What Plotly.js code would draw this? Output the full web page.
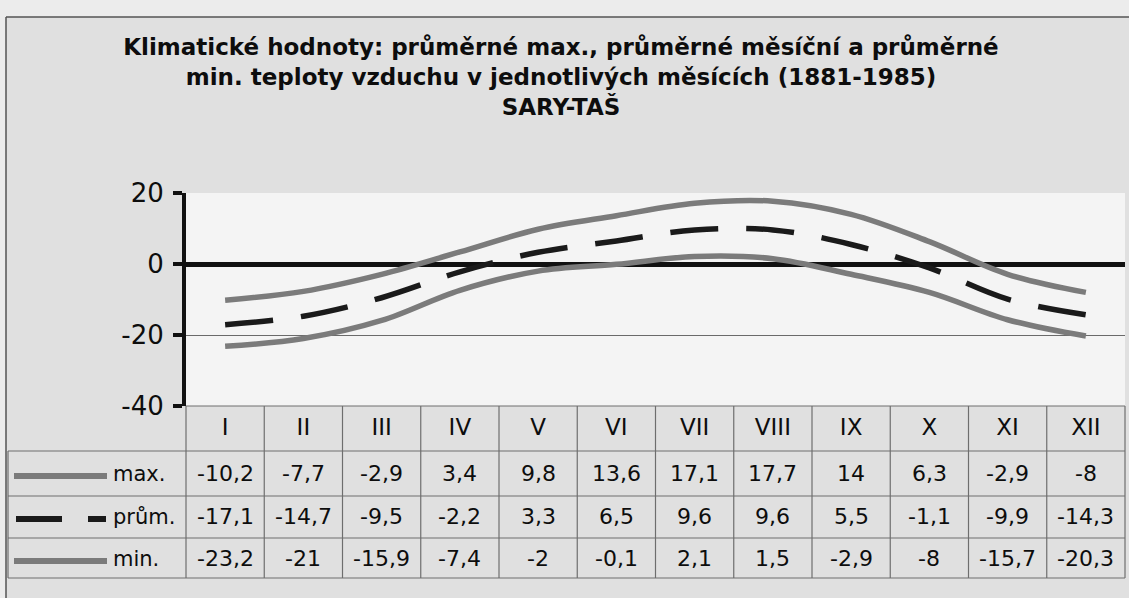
<!DOCTYPE html>
<html>
<head>
<meta charset="utf-8">
<script src="https://cdn.plot.ly/plotly-3.0.1.min.js"></script>
<style>html,body{margin:0;padding:0;background:#e4e4e4;}#chart{width:1129px;height:598px;}</style>
</head>
<body>
<div id="chart"></div>
<script>
// ---- data ----
const months = ['I','II','III','IV','V','VI','VII','VIII','IX','X','XI','XII'];
const maxT  = [-10.2, -7.7, -2.9, 3.4, 9.8, 13.6, 17.1, 17.7, 14, 6.3, -2.9, -8];
const meanT = [-17.1, -14.7, -9.5, -2.2, 3.3, 6.5, 9.6, 9.6, 5.5, -1.1, -9.9, -14.3];
const minT  = [-23.2, -21, -15.9, -7.4, -2, -0.1, 2.1, 1.5, -2.9, -8, -15.7, -20.3];
const seriesNames = ['max.', 'prům.', 'min.'];
const yTickVals = [-40, -20, 0, 20];
const yTickText = ['-40', '-20', '0', '20'];
const titleText = 'Klimatické hodnoty: průměrné max., průměrné měsíční a průměrné<br>min. teploty vzduchu v jednotlivých měsících (1881-1985)<br>SARY-TAŠ';

// ---- geometry (pixels) ----
const W = 1129, H = 598, L = 186, R = 4, T = 193, B = 192;
const plotW = W - L - R, plotH = H - T - B;
const px2x = p => (p - L) / plotW;
const py2y = p => (H - B - p) / plotH;

const GRAY = '#7b7b7b', BLACK = '#1a1a1a', FONT = 'DejaVu Sans', TXT = '#0d0d0d';
const rowLines = [451, 496, 538, 578];
const rowCenters = [473, 516, 558];

const seriesData = [maxT, meanT, minT];
const seriesStyles = [
  {color: GRAY, width: 5.5},
  {color: BLACK, width: 5.5, dash: '48px,28px'},
  {color: GRAY, width: 5.5}
];

const traces = seriesData.map((vals, s) => ({
  type: 'scatter', mode: 'lines', x: months, y: vals, name: seriesNames[s],
  line: Object.assign({shape: 'spline', smoothing: 1}, seriesStyles[s]),
  hoverinfo: 'skip'
}));

const fmt = v => String(v).replace('.', ',');

const shapes = [];
const annotations = [];
// light strip outside the chart border
shapes.push({type:'rect', xref:'paper', yref:'paper', layer:'below',
  x0: px2x(0), x1: px2x(W), y0: py2y(17), y1: py2y(0), fillcolor:'#ececec', line:{width:0}});
shapes.push({type:'rect', xref:'paper', yref:'paper', layer:'below',
  x0: px2x(0), x1: px2x(6), y0: py2y(H), y1: py2y(0), fillcolor:'#ececec', line:{width:0}});
// chart border
shapes.push({type:'line', xref:'paper', yref:'paper', x0: px2x(6), x1: px2x(W), y0: py2y(17), y1: py2y(17), line:{color:'#555', width:1.5}});
shapes.push({type:'line', xref:'paper', yref:'paper', x0: px2x(6), x1: px2x(6), y0: py2y(17), y1: py2y(H), line:{color:'#555', width:1.5}});

// table grid
const TL = {color:'#6e6e6e', width:1.2};
shapes.push({type:'line', xref:'paper', yref:'paper', x0: 0, x1: 1, y0: 0, y1: 0, line: TL});
rowLines.forEach(py => shapes.push({type:'line', xref:'paper', yref:'paper',
  x0: px2x(8), x1: 1, y0: py2y(py), y1: py2y(py), line: TL}));
for (let k = 0; k <= months.length; k++) {
  shapes.push({type:'line', xref:'paper', yref:'paper', x0: k / months.length, x1: k / months.length,
    y0: 0, y1: py2y(rowLines[rowLines.length - 1]), line: TL});
}
shapes.push({type:'line', xref:'paper', yref:'paper', x0: px2x(8), x1: px2x(8),
  y0: py2y(rowLines[0]), y1: py2y(rowLines[rowLines.length - 1]), line: TL});

// legend keys in the table
seriesNames.forEach((name, s) => {
  const yk = py2y(rowCenters[s] + 3);
  if (s === 1) {
    shapes.push({type:'line', xref:'paper', yref:'paper', x0: px2x(16), x1: px2x(62), y0: yk, y1: yk, line:{color: BLACK, width: 6}});
    shapes.push({type:'line', xref:'paper', yref:'paper', x0: px2x(88), x1: px2x(106), y0: yk, y1: yk, line:{color: BLACK, width: 6}});
  } else {
    shapes.push({type:'line', xref:'paper', yref:'paper', x0: px2x(14), x1: px2x(107), y0: yk, y1: yk, line:{color: GRAY, width: 6}});
  }
  annotations.push({xref:'paper', yref:'paper', x: px2x(111), y: py2y(rowCenters[s] + 1), xanchor:'left', yanchor:'middle',
    text: name, showarrow:false, font:{family: FONT, size: 21, color: TXT}});
  seriesData[s].forEach((v, i) => annotations.push({xref:'x', yref:'paper', x: months[i], y: py2y(rowCenters[s]),
    xanchor:'center', yanchor:'middle', text: fmt(v), showarrow:false, font:{family: FONT, size: 22, color: TXT}}));
});

const layout = {
  width: W, height: H,
  margin: {l: L, r: R, t: T, b: B, pad: 0},
  paper_bgcolor: '#e0e0e0', plot_bgcolor: '#f4f4f4',
  showlegend: false,
  title: {text: titleText, font: {family: FONT, size: 23, color: TXT, weight: 'bold'},
    xref: 'container', x: 561 / W, xanchor: 'center', yref: 'container', y: 1 - 55 / H, yanchor: 'top'},
  xaxis: {type: 'category', range: [-0.5, months.length - 0.5], showgrid: false, zeroline: false, showline: false,
    ticks: '', tickfont: {family: FONT, size: 23, color: TXT}, ticklabelstandoff: 5, fixedrange: true},
  yaxis: {range: [-40, 20], tickvals: yTickVals, ticktext: yTickText, ticks: 'outside', ticklen: 9, tickwidth: 4,
    tickcolor: '#111', showline: true, linewidth: 4, linecolor: '#111', showgrid: true, gridcolor: '#6a6a6a', gridwidth: 1,
    zeroline: true, zerolinecolor: '#111', zerolinewidth: 5, tickfont: {family: FONT, size: 26, color: TXT},
    ticklabelstandoff: 4, fixedrange: true},
  shapes: shapes,
  annotations: annotations
};

Plotly.newPlot('chart', traces, layout, {displayModeBar: false, staticPlot: true});
</script>
</body>
</html>
